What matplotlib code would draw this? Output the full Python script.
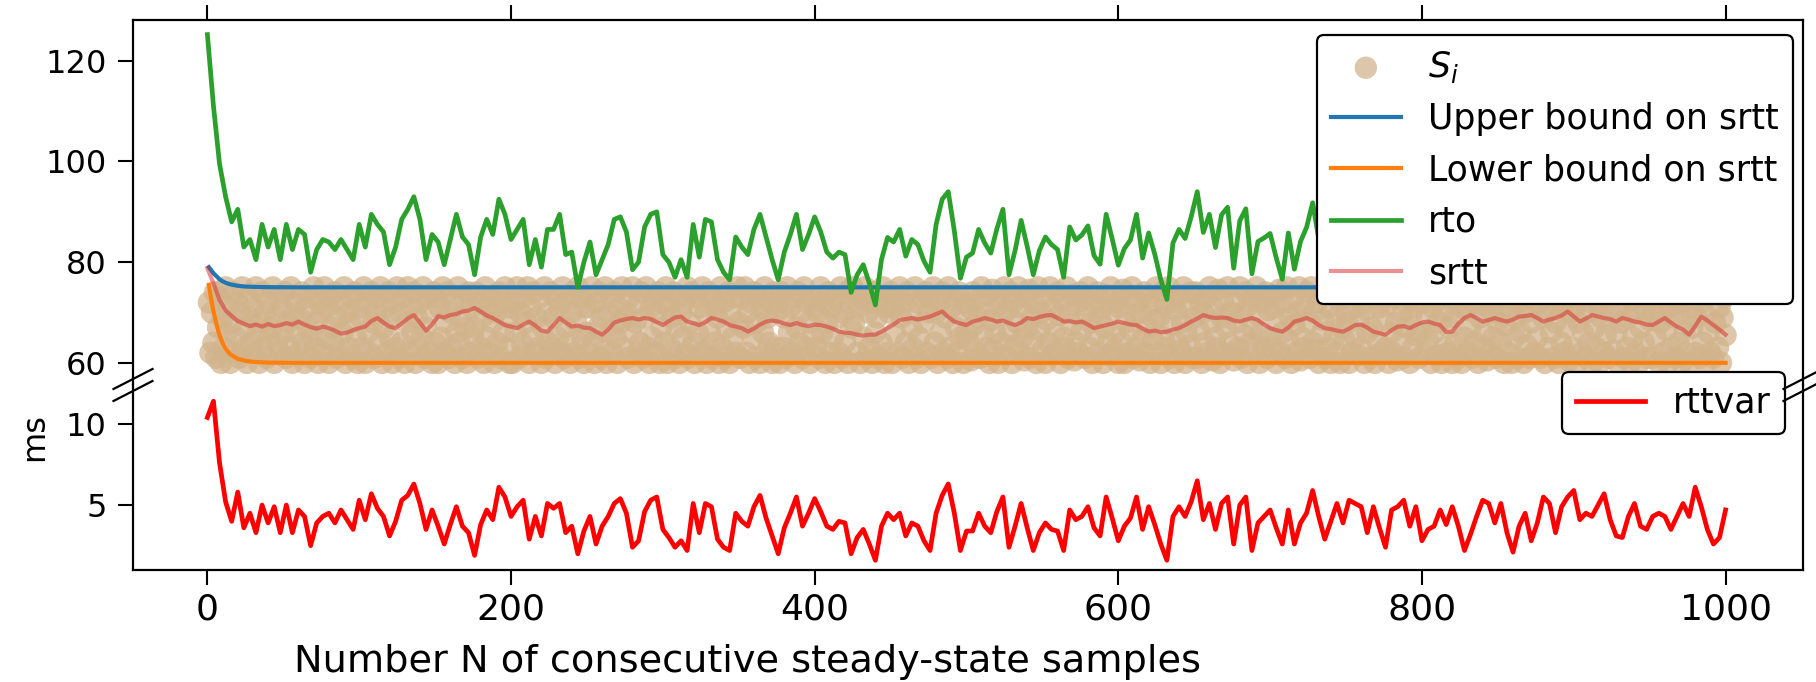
import numpy as np
import matplotlib
matplotlib.use("Agg")
import matplotlib.pyplot as plt

# ---- data ----
# line series sampled every 4 steady-state samples (n = 0, 4, ..., 1000)
n_line = np.arange(0, 1001, 4)

rttvar = [
    10.4, 11.4, 7.6, 5.2, 4.0, 5.8, 3.6, 4.5, 3.3, 5.0,
    3.9, 4.9, 3.3, 5.0, 3.3, 4.7, 4.3, 2.5, 3.9, 4.3,
    4.5, 3.9, 4.7, 4.1, 3.5, 5.3, 4.1, 5.7, 4.8, 4.3,
    3.1, 4.0, 5.3, 5.6, 6.3, 5.1, 3.5, 4.7, 3.7, 2.6,
    3.8, 4.9, 3.7, 3.3, 1.9, 3.8, 4.7, 4.1, 6.1, 5.5,
    4.3, 4.9, 5.3, 2.9, 4.3, 3.1, 5.1, 4.8, 5.1, 3.3,
    3.7, 2.0, 3.4, 4.3, 2.6, 3.7, 4.3, 5.1, 5.4, 4.5,
    2.4, 2.8, 4.6, 5.3, 5.5, 3.5, 3.0, 2.4, 2.8, 2.2,
    5.1, 3.3, 5.1, 4.9, 2.9, 2.4, 2.2, 4.5, 4.0, 3.7,
    4.9, 5.6, 4.2, 3.1, 2.0, 3.6, 4.5, 5.5, 3.7, 4.5,
    5.4, 4.6, 3.7, 3.5, 4.0, 3.9, 2.0, 3.0, 3.5, 2.6,
    1.6, 3.7, 4.5, 4.1, 4.5, 3.1, 3.9, 3.7, 2.8, 2.2,
    4.5, 5.6, 6.3, 4.5, 2.2, 3.4, 3.4, 4.5, 3.7, 3.3,
    4.6, 5.5, 2.4, 3.7, 5.1, 3.6, 2.2, 3.3, 3.9, 3.5,
    3.4, 2.2, 4.7, 4.1, 4.3, 4.9, 3.6, 3.1, 5.5, 4.2,
    2.8, 3.7, 4.2, 5.5, 3.5, 4.9, 3.8, 2.6, 1.6, 4.3,
    4.9, 4.3, 5.2, 6.5, 4.1, 5.1, 3.5, 5.1, 5.5, 2.6,
    5.0, 5.5, 2.2, 3.9, 4.3, 4.7, 3.6, 2.6, 4.7, 2.6,
    3.9, 4.5, 5.9, 4.3, 2.9, 4.0, 5.1, 3.9, 5.3, 5.1,
    4.9, 3.3, 4.9, 3.6, 2.4, 4.7, 4.9, 5.3, 3.7, 4.9,
    2.8, 3.5, 3.7, 4.7, 3.8, 4.9, 3.7, 2.2, 3.2, 4.3,
    5.3, 5.1, 3.9, 5.1, 3.3, 2.1, 3.7, 4.5, 2.8, 3.9,
    5.5, 5.1, 3.3, 4.9, 5.5, 5.9, 4.1, 4.5, 4.3, 5.0,
    5.7, 4.1, 3.1, 3.0, 4.3, 5.1, 3.7, 3.5, 4.3, 4.5,
    4.3, 3.5, 4.3, 5.1, 4.3, 6.1, 4.9, 3.5, 2.6, 3.0,
    4.7,
]

srtt = [
    78.8, 75.8, 72.5, 70.4, 69.3, 68.3, 67.8, 67.3, 67.6, 67.2,
    67.7, 67.3, 67.5, 67.9, 67.6, 68.2, 67.6, 67.1, 66.8, 67.2,
    66.9, 66.4, 65.8, 66.0, 66.5, 66.9, 67.2, 68.3, 68.9, 68.0,
    67.2, 66.9, 67.8, 68.8, 69.5, 68.0, 66.4, 67.6, 69.3, 69.0,
    69.5, 69.7, 70.2, 70.4, 70.9, 70.2, 69.4, 68.9, 68.2, 67.5,
    67.2, 66.9, 67.6, 68.2, 67.4, 66.4, 66.2, 67.5, 68.9, 68.0,
    67.2, 67.4, 67.0, 66.9, 66.2, 65.6, 66.6, 68.0, 68.4, 68.7,
    68.9, 68.6, 68.9, 68.7, 68.1, 67.5, 68.3, 69.0, 69.2, 68.2,
    67.9, 67.5, 68.1, 68.9, 68.6, 68.2, 67.5, 67.2, 66.9, 66.2,
    66.8, 67.6, 68.2, 68.4, 68.2, 67.8, 67.5, 67.9, 67.5, 67.3,
    67.6, 67.5, 67.2, 66.8, 66.2, 66.0, 65.9, 65.6, 65.4, 65.6,
    65.6, 66.2, 66.9, 67.6, 68.5, 68.7, 68.9, 68.6, 68.9, 69.2,
    69.7, 70.2, 69.1, 68.2, 67.8, 67.5, 68.2, 68.5, 68.9, 68.6,
    68.2, 68.4, 67.9, 67.5, 68.0, 68.9, 68.7, 69.1, 69.4, 69.5,
    68.9, 68.2, 68.3, 68.0, 68.2, 67.6, 66.9, 67.2, 67.5, 67.8,
    68.2, 67.9, 67.6, 67.5, 66.8, 66.2, 66.4, 66.1, 66.2, 66.6,
    66.9, 67.5, 68.2, 68.8, 69.5, 69.1, 68.9, 69.0, 68.9, 68.4,
    68.2, 68.6, 68.9, 68.5, 67.6, 66.9, 66.5, 66.2, 67.0, 68.2,
    68.5, 68.9, 68.4, 67.5, 66.9, 66.7, 66.4, 66.2, 66.8, 67.5,
    67.6, 67.0, 66.2, 65.9, 65.6, 66.5, 67.2, 67.3, 66.9, 67.5,
    68.0, 68.2, 67.8, 67.5, 66.1, 66.2, 67.8, 68.9, 69.5, 68.9,
    68.2, 68.5, 68.9, 68.5, 68.2, 68.6, 69.2, 69.3, 69.5, 68.9,
    68.2, 68.6, 68.9, 69.4, 70.2, 69.2, 68.2, 68.8, 69.5, 69.2,
    68.9, 68.7, 68.2, 68.9, 68.6, 68.2, 68.0, 67.6, 67.5, 68.2,
    68.9, 68.0, 67.2, 66.6, 65.6, 67.3, 69.2, 68.4, 67.5, 66.6,
    65.6,
]

rto = [
    125.2, 111.0, 99.5, 93.0, 88.0, 90.5, 83.0, 84.5, 80.5, 87.5,
    83.0, 86.5, 80.5, 87.5, 82.5, 86.5, 85.5, 78.0, 82.5, 84.5,
    84.0, 82.5, 84.5, 82.5, 80.5, 87.5, 83.0, 89.5, 87.5, 86.0,
    79.5, 83.0, 88.5, 90.5, 93.0, 88.5, 80.5, 85.5, 84.0, 79.5,
    84.5, 89.5, 85.0, 83.5, 77.5, 85.0, 88.5, 85.5, 92.5, 89.5,
    84.5, 86.5, 88.5, 79.5, 84.5, 79.0, 86.5, 86.5, 89.5, 81.5,
    82.0, 75.0, 80.0, 84.0, 77.5, 80.5, 83.5, 88.5, 89.0, 86.0,
    78.5, 80.0, 87.0, 89.5, 90.0, 81.5, 80.0, 77.0, 80.5, 77.0,
    87.5, 81.0, 88.5, 88.0, 80.5, 78.0, 76.5, 85.0, 83.0, 81.5,
    86.5, 89.5, 85.0, 80.5, 76.5, 82.0, 85.5, 89.5, 82.5, 85.5,
    89.0, 86.0, 82.0, 80.8, 82.0, 81.5, 74.0, 77.5, 79.5, 75.8,
    71.5, 80.5, 84.9, 84.0, 86.5, 81.2, 84.5, 83.5, 80.2, 78.0,
    87.5, 92.5, 94.0, 86.2, 76.8, 81.0, 81.8, 86.5, 83.8, 81.8,
    86.6, 90.5, 77.5, 82.3, 88.3, 83.1, 77.5, 82.3, 85.0, 83.5,
    82.5, 77.0, 87.0, 84.4, 85.4, 87.2, 81.3, 79.6, 89.5, 84.6,
    79.4, 82.7, 84.4, 89.5, 80.8, 85.8, 81.6, 76.5, 72.6, 83.8,
    86.5, 84.7, 89.0, 94.0, 85.9, 89.5, 82.9, 89.4, 90.9, 78.8,
    88.2, 90.6, 77.7, 84.1, 84.8, 85.7, 80.9, 76.6, 85.8, 78.6,
    84.1, 86.9, 91.8, 84.7, 78.5, 82.7, 86.8, 81.8, 88.0, 87.9,
    87.2, 80.2, 85.8, 80.3, 75.2, 85.3, 86.8, 88.5, 81.7, 87.1,
    79.2, 82.2, 82.6, 86.3, 81.3, 85.8, 82.6, 77.7, 82.3, 86.1,
    89.4, 88.9, 84.5, 88.9, 81.4, 77.0, 84.0, 87.3, 80.7, 84.5,
    90.2, 89.0, 82.1, 89.0, 92.2, 92.8, 84.6, 86.8, 86.7, 89.2,
    91.7, 85.1, 80.6, 80.9, 85.8, 88.6, 82.8, 81.6, 84.7, 86.2,
    86.1, 82.0, 84.4, 87.0, 82.8, 91.7, 88.8, 82.4, 77.9, 78.6,
    84.4,
]

# bounds on srtt (smooth decay at the start, flat afterwards)
bound_n = [1, 2, 3, 4, 6, 8, 10, 12, 15, 20, 25, 30, 40, 60, 1000]
upper_bound = [79.0, 78.6, 78.2, 77.8, 77.2, 76.6, 76.2, 75.9, 75.6, 75.3,
               75.15, 75.1, 75.03, 75.0, 75.0]
lower_bound = [75.5, 73.5, 71.8, 70.3, 67.6, 65.5, 63.9, 62.8, 61.7, 60.8,
               60.4, 60.2, 60.05, 60.0, 60.0]

# samples S_i, n = 1 .. 1000
n_samples = np.arange(1, 1001)
s_i = [
    72, 62, 70, 64, 74, 61, 67, 73, 60, 69, 63, 75, 66, 71, 60, 68, 74, 62, 65, 72, 61, 70, 75, 63, 67,
    60, 73, 69, 64, 71, 62, 75, 66, 60, 68, 74, 63, 70, 61, 72, 65, 67, 75, 60, 69, 64, 73, 62, 71, 66,
    74, 61, 68, 63, 75, 60, 70, 66, 72, 62, 69, 74, 64, 60, 71, 67, 73, 61, 65, 75, 63, 68, 60, 72, 70,
    62, 75, 65, 71, 60, 73, 67, 64, 74, 61, 69, 62, 72, 66, 75, 60, 70, 63, 68, 73, 61, 74, 65, 60, 71,
    69, 63, 75, 60, 72, 66, 62, 74, 68, 61, 70, 73, 64, 75, 60, 67, 71, 62, 74, 65, 69, 60, 72, 63, 75,
    61, 70, 64, 73, 60, 68, 75, 62, 71, 66, 74, 60, 69, 63, 72, 65, 75, 61, 67, 73, 62, 70, 60, 74, 64,
    73, 60, 71, 65, 75, 62, 68, 74, 61, 70, 63, 72, 60, 66, 75, 64, 69, 61, 73, 67, 60, 74, 62, 71, 65,
    67, 74, 61, 72, 63, 69, 60, 75, 65, 71, 62, 73, 68, 60, 70, 64, 74, 61, 72, 66, 75, 63, 69, 60, 71,
    60, 72, 66, 75, 61, 70, 64, 73, 62, 68, 75, 60, 71, 65, 74, 62, 69, 63, 73, 60, 67, 75, 61, 70, 64,
    74, 63, 69, 60, 73, 65, 71, 62, 75, 61, 67, 72, 64, 60, 70, 74, 62, 68, 75, 61, 73, 65, 60, 71, 66,
    62, 71, 75, 64, 60, 72, 67, 74, 61, 69, 63, 75, 60, 70, 66, 73, 62, 74, 65, 60, 71, 68, 75, 63, 69,
    70, 61, 73, 66, 75, 60, 68, 62, 72, 64, 74, 61, 69, 75, 63, 60, 71, 65, 73, 62, 70, 74, 60, 67, 72,
    64, 75, 60, 71, 63, 69, 74, 61, 67, 73, 60, 70, 65, 72, 62, 75, 61, 68, 74, 64, 60, 73, 66, 71, 62,
    75, 62, 70, 60, 74, 66, 61, 73, 64, 71, 69, 60, 75, 63, 72, 61, 67, 74, 60, 70, 65, 73, 62, 75, 68,
    61, 73, 67, 75, 62, 70, 60, 72, 65, 74, 61, 68, 73, 60, 71, 66, 75, 62, 69, 64, 72, 60, 74, 63, 70,
    72, 60, 74, 63, 69, 61, 75, 66, 71, 62, 73, 60, 67, 74, 64, 70, 61, 75, 63, 72, 68, 60, 73, 65, 71,
    63, 70, 61, 75, 66, 72, 60, 68, 74, 62, 71, 65, 60, 73, 69, 62, 75, 61, 70, 64, 74, 60, 72, 67, 75,
    68, 74, 62, 71, 60, 73, 65, 75, 61, 70, 63, 72, 60, 74, 66, 69, 61, 73, 64, 75, 60, 71, 62, 70, 74,
    60, 71, 66, 73, 62, 75, 69, 61, 72, 64, 74, 60, 70, 67, 63, 75, 61, 72, 65, 60, 73, 68, 74, 62, 70,
    73, 61, 75, 64, 70, 60, 72, 66, 74, 62, 69, 61, 75, 63, 71, 60, 73, 67, 62, 74, 65, 70, 60, 72, 66,
    64.5, 71, 60.5, 74, 67.5, 62, 72.5, 69, 61, 75, 65.5, 70, 63, 73.5, 60, 68.5, 74.5, 62.5, 66, 71.5, 60, 73, 64, 69.5, 75,
    61.5, 70.5, 66, 74, 60, 72, 63.5, 68, 75, 62, 71, 65, 60.5, 73, 67, 74.5, 61, 69, 64.5, 72, 60, 75, 66.5, 70, 62.5,
    73, 60, 68.5, 64, 75, 61.5, 71, 66, 62, 74, 69.5, 60, 72.5, 65, 63, 75, 61, 70, 67.5, 73.5, 60.5, 64, 71.5, 62, 74,
    66.5, 73, 61, 70, 75, 63, 68, 60, 72, 65.5, 74, 62, 69, 71, 60, 67, 73.5, 64, 61.5, 75, 70.5, 62.5, 66, 72, 60,
    71, 64, 74.5, 60, 68, 62, 73, 66.5, 75, 61, 69.5, 63, 72, 60.5, 70, 65, 74, 62, 67, 73, 60, 71.5, 64.5, 68.5, 75,
    62, 69, 60, 74, 65, 71.5, 63, 75, 61, 67.5, 72, 60, 70.5, 64, 73.5, 62.5, 68, 75, 60, 66, 71, 63.5, 74, 61, 69,
    74, 61, 66.5, 72, 60, 70, 64, 73, 62, 75, 68, 60.5, 71, 65, 63, 74.5, 60, 69, 72.5, 61.5, 67, 75, 64, 70, 62,
    60.5, 72, 68, 63, 75, 61, 70, 65.5, 74, 60, 71.5, 64, 67, 73, 62, 75, 69.5, 60, 66, 72, 63, 74, 61, 70.5, 65,
    73.5, 63, 71, 60, 68, 74.5, 62, 66, 72, 61, 75, 64.5, 69, 60, 73, 67.5, 62, 70, 75, 60.5, 65, 71, 63, 74, 68,
    61, 75, 64, 70, 62.5, 72, 60, 73.5, 66, 68.5, 61, 74, 63, 71, 60, 75, 65, 69, 62, 72.5, 60, 67, 73, 64.5, 70,
    68, 60, 74, 62, 71, 65, 75, 61.5, 69, 63, 72, 60, 70.5, 66, 74, 61, 67, 73, 60, 75, 64, 71, 62, 68.5, 73,
    63, 71.5, 60, 75, 66, 62, 73, 68, 60.5, 74, 64, 70, 61, 72, 67, 75, 60, 69.5, 63, 71, 65.5, 74, 61, 66, 72,
    75, 62, 69, 64.5, 73, 60, 71, 66, 74, 61.5, 68, 72.5, 60, 70, 63, 75, 62, 67, 73, 60, 69, 64, 74.5, 61, 71,
    60, 73, 65, 70.5, 62, 75, 67, 61, 72, 64, 74, 60, 69, 71.5, 63, 66, 75, 60.5, 72, 62, 70, 65, 73, 61, 68,
    70, 64, 75, 60, 67.5, 73, 62, 71, 60, 74.5, 65, 69, 61, 72, 66, 75, 60, 70, 63.5, 73, 61, 68, 74, 62, 71.5,
    65, 72, 61, 74, 69, 60, 73, 63, 70.5, 66, 75, 61, 68, 72, 60, 74, 64, 71, 62, 67, 75, 60.5, 70, 63, 73,
    71, 60, 68, 73.5, 62, 66, 75, 61, 70, 64, 72, 60, 74, 67, 63, 71.5, 60, 69, 75, 62, 65.5, 73, 61, 70, 74,
    62.5, 74, 66, 60, 71, 68, 73, 61, 75, 63, 69, 60, 72.5, 65, 70, 62, 74, 60, 67, 73, 64, 71, 61, 75, 68.5,
    73, 61, 70, 65, 75, 60, 68, 72, 62, 74, 66.5, 60, 71, 63, 73, 69, 61, 75, 64, 70, 60, 72, 66, 62, 74,
    60, 71, 67, 74, 62, 69, 75, 61, 72, 64, 70, 60, 73.5, 66, 62, 75, 61, 68, 74, 63, 71, 60, 69, 73, 65.5,
]

x_ticks = [0, 200, 400, 600, 800, 1000]
top_yticks = [60, 80, 100, 120]
bot_yticks = [5, 10]

fig = plt.figure(figsize=(18.16, 6.82), dpi=100)

# axes geometry in pixels (left, right, top, junction, bottom)
W, H = 1816.0, 682.0
x0, x1, y_top, y_mid, y_bot = 133, 1803, 20, 385, 570
ax_t = fig.add_axes([x0 / W, 1 - y_mid / H, (x1 - x0) / W, (y_mid - y_top) / H])
ax_b = fig.add_axes([x0 / W, 1 - y_bot / H, (x1 - x0) / W, (y_bot - y_mid) / H],
                    sharex=ax_t)

ax_t.scatter(n_samples, s_i, s=260, color="tan", alpha=0.75, edgecolors="none",
             label="$S_i$", zorder=1)
ax_t.plot(bound_n, upper_bound, color="tab:blue", lw=3.0, label="Upper bound on srtt")
ax_t.plot(bound_n, lower_bound, color="tab:orange", lw=3.0, label="Lower bound on srtt")
ax_t.plot(n_line, rto, color="tab:green", lw=3.4, label="rto")
ax_t.plot(n_line, srtt, color="tab:red", alpha=0.5, lw=3.0, label="srtt")

ax_b.plot(n_line, rttvar, color="red", lw=3.4, label="rttvar")

ax_t.set_xlim(-49, 1051)
ax_t.set_ylim(55.6, 128.1)
ax_b.set_ylim(1.0, 12.4)

for ax in (ax_t, ax_b):
    for sp in ax.spines.values():
        sp.set_linewidth(1.6)
    ax.tick_params(length=11, width=1.5, labelsize=23, pad=8)

ax_t.spines["bottom"].set_visible(False)
ax_b.spines["top"].set_visible(False)
ax_t.xaxis.tick_top()
ax_t.tick_params(axis="x", labeltop=False, labelbottom=False)
ax_t.set_xticks(x_ticks)
ax_t.set_yticks(top_yticks)
ax_b.set_yticks(bot_yticks)
ax_b.set_xticks(x_ticks)
ax_b.tick_params(axis="x", pad=5, labelsize=26)

leg_kw = dict(fontsize=25, frameon=True, framealpha=1, edgecolor="black",
              fancybox=True, borderaxespad=0)
leg = ax_t.legend(loc="upper right", bbox_to_anchor=(0.994, 0.959),
                  scatterpoints=1, **leg_kw)
leg.get_frame().set_linewidth(1.6)
leg2 = ax_b.legend(loc="upper right", bbox_to_anchor=(0.989, 1.07), **leg_kw)
leg2.get_frame().set_linewidth(1.6)
leg2.set_zorder(10)

# break marks "//" on both spines
def break_marks(xc):
    dx, dy, gap = 19.5 / W, 10 / H, 6 / H
    yc = 1 - y_mid / H
    for off in (gap, -gap):
        fig.add_artist(plt.Line2D([xc - dx, xc + dx], [yc + off - dy, yc + off + dy],
                                  transform=fig.transFigure, color="black", lw=1.6,
                                  clip_on=False))

break_marks(x0 / W)
break_marks(x1 / W)

fig.text(35 / W, 1 - 437 / H, "ms", rotation=90, ha="center", va="center",
         fontsize=23)
fig.text(747 / W, 1 - 662 / H, "Number N of consecutive steady-state samples",
         ha="center", va="center", fontsize=27.5)

fig.savefig("out.png", dpi=100)
